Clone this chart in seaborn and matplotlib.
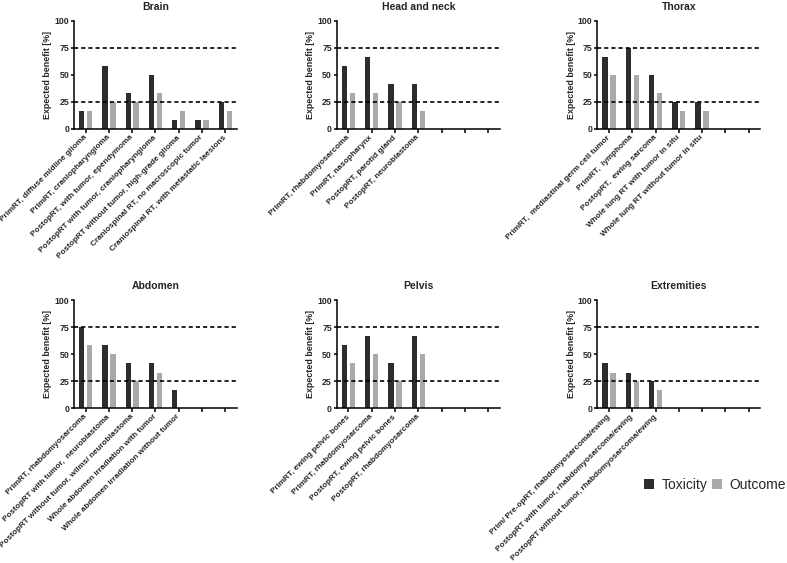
import numpy as np
import pandas as pd
import matplotlib
matplotlib.use('Agg')
import matplotlib.pyplot as plt
import seaborn as sns
from matplotlib.patches import Patch

# ──────────────────────────────────────────────────────────────
#  DATA
# ──────────────────────────────────────────────────────────────

brain_labels = ['PrimRT, diffuse midline glioma', 'PrimRT, craniopharyngioma',
                'PostopRT, with tumor, ependymoma', 'PostopRT with tumor, craniopharyngioma',
                'PostopRT without tumor, high-grade glioma', 'Craniospinal RT, no macroscopic tumor',
                'Craniospinal RT, with metastatic laesions']
brain_tox = [17, 58, 33, 50, 8, 8, 25]
brain_out = [17, 25, 25, 33, 17, 8, 17]

hn_labels = ['PrimRT, rhabdomyosarcoma', 'PrimRT, nasopharynx',
             'PostopRT, parotid gland', 'PostopRT, neuroblastoma']
hn_tox = [58, 67, 42, 42]
hn_out = [33, 33, 25, 17]

thorax_labels = ['PrimRT,  mediastinal germ cell tumor', 'PrimRT,  lymphoma',
                 'PostopRT,  ewing sarcoma', 'Whole lung RT with tumor in situ',
                 'Whole lung RT without tumor in situ']
thorax_tox = [67, 75, 50, 25, 25]
thorax_out = [50, 50, 33, 17, 17]

abd_labels = ['PrimRT, rhabdomyosarcoma', 'PostopRT with tumor,  neuroblastoma',
              'PostopRT without tumor, wilms/ neuroblastoma',
              'Whole abdomen irradiation with tumor', 'Whole abdomen irradiation without tumor']
abd_tox = [75, 58, 42, 42, 17]
abd_out = [58, 50, 25, 33, 0]

pelvis_labels = ['PrimRT, ewing pelvic bones', 'PrimRT, rhabdomyosarcoma',
                 'PostopRT, ewing pelvic bones', 'PostopRT, rhabdomyosarcoma']
pelvis_tox = [58, 67, 42, 67]
pelvis_out = [42, 50, 25, 50]

ext_labels = ['Prim/ Pre-opRT, rhabdomyosarcoma/ewing',
              'PostopRT with tumor, rhabdomyosarcoma/ewing',
              'PostopRT without tumor, rhabdomyosarcoma/ewing']
ext_tox = [42, 33, 25]
ext_out = [33, 25, 17]

panels = [
    ('Brain', brain_labels, brain_tox, brain_out),
    ('Head and neck', hn_labels, hn_tox, hn_out),
    ('Thorax', thorax_labels, thorax_tox, thorax_out),
    ('Abdomen', abd_labels, abd_tox, abd_out),
    ('Pelvis', pelvis_labels, pelvis_tox, pelvis_out),
    ('Extremities', ext_labels, ext_tox, ext_out),
]

metrics = ['Toxicity', 'Outcome']
colors = ['#2d2d2d', '#a9a9a9']
n_slots = 7

# ──────────────────────────────────────────────────────────────
#  FIGURE
# ──────────────────────────────────────────────────────────────

sns.set_style('ticks')
plt.rcParams['font.family'] = ['Liberation Sans', 'DejaVu Sans']

fig = plt.figure(figsize=(7.87, 5.63), dpi=100)

lefts = [0.094, 0.428, 0.759]
bottoms = [0.771, 0.275]
w, h = 0.207, 0.192

for i, (title, labels, tox, out) in enumerate(panels):
    ax = fig.add_axes([lefts[i % 3], bottoms[i // 3], w, h])

    df = pd.DataFrame({
        'label':  labels * 2,
        'value':  tox + out,
        'metric': ['Toxicity'] * len(labels) + ['Outcome'] * len(labels),
    })
    # empty slots so every panel has 7 ticks
    pad = [' ' * (k + 1) for k in range(n_slots - len(labels))]
    order = labels + pad

    sns.barplot(data=df, x='label', y='value', hue='metric', order=order,
                hue_order=metrics, palette=colors, saturation=1,
                width=0.68, gap=0.32, linewidth=0, legend=False, ax=ax)

    for yy in (25, 75):
        ax.axhline(yy, color='black', lw=1.2, ls=(0, (2.5, 1.8)), zorder=3)

    ax.set_xlim(-0.5, n_slots - 0.5)
    ax.set_ylim(0, 100)
    ax.set_yticks([0, 25, 50, 75, 100])
    ax.set_xticks(range(n_slots))
    ax.set_xticklabels(labels + [''] * len(pad), rotation=45, ha='right',
                       va='center', rotation_mode='anchor', fontsize=5.9,
                       fontweight='bold')
    for t in ax.get_yticklabels():
        t.set_fontsize(6.3)
        t.set_fontweight('bold')
    ax.tick_params(axis='x', width=1.1, length=3, pad=2.5, color='black')
    ax.tick_params(axis='y', width=1.1, length=2.5, pad=1, color='black')
    ax.set_xlabel('')
    ax.set_ylabel('Expected benefit [%]', fontsize=6.4, fontweight='bold', labelpad=1.5)
    ax.set_title(title, fontsize=7.5, fontweight='bold', pad=8)

    sns.despine(ax=ax)
    for s in ('left', 'bottom'):
        ax.spines[s].set_linewidth(1.1)
        ax.spines[s].set_color('black')

handles = [Patch(facecolor=c, edgecolor='none') for c in colors]
fig.legend(handles, metrics, loc='center right', bbox_to_anchor=(0.999, 0.1385),
           ncol=2, frameon=False, fontsize=10, handlelength=0.72, handleheight=0.72,
           handletextpad=0.55, columnspacing=0.3, borderpad=0, borderaxespad=0)

fig.savefig('out.png', dpi=100)
